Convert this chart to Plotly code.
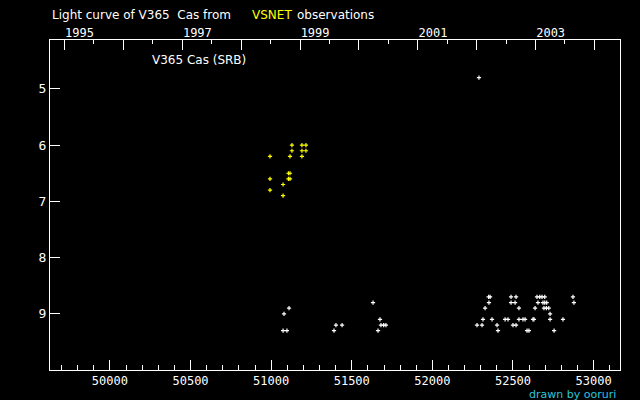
import datetime
import plotly.graph_objs as go

# VSNET observations of V365 Cas, JD-2400000 vs visual magnitude
yellow_jd = [51129, 51191, 51216, 51129, 51191, 51216, 50993, 51117, 51191,
             51107, 51117, 50993, 51107, 51117, 51074, 50993, 51074]
yellow_mag = [6.0, 6.0, 6.0, 6.1, 6.1, 6.1, 6.2, 6.2, 6.2,
              6.5, 6.5, 6.6, 6.6, 6.6, 6.7, 6.8, 6.9]

white_jd = [52289,
            51111, 51080, 51074, 51098,
            51632, 51675, 51681, 51698, 51712, 51663,
            51402, 51440, 51390,
            52349, 52358, 52488, 52519, 52649, 52666, 52680, 52697, 52872,
            52351, 52488, 52513, 52655, 52686, 52697, 52709, 52878,
            52327, 52537, 52637, 52692, 52707, 52722,
            52730,
            52314, 52370, 52451, 52469, 52537, 52562, 52575, 52624, 52630, 52730, 52810,
            52277, 52308, 52401, 52500, 52519,
            52407, 52587, 52599, 52755]
white_mag = [4.8,
             8.9, 9.0, 9.3, 9.3,
             8.8, 9.1, 9.2, 9.2, 9.2, 9.3,
             9.2, 9.2, 9.3,
             8.7, 8.7, 8.7, 8.7, 8.7, 8.7, 8.7, 8.7, 8.7,
             8.8, 8.8, 8.8, 8.8, 8.8, 8.8, 8.8, 8.8,
             8.9, 8.9, 8.9, 8.9, 8.9, 8.9,
             9.0,
             9.1, 9.1, 9.1, 9.1, 9.1, 9.1, 9.1, 9.1, 9.1, 9.1, 9.1,
             9.2, 9.2, 9.2, 9.2, 9.2,
             9.3, 9.3, 9.3, 9.3]

jd_ticks = [50000, 50500, 51000, 51500, 52000, 52500, 53000]
jd_labels = ['50000', '50500', '51000', '51500', '52000', '52500', '53000']
mag_ticks = [5, 6, 7, 8, 9]
years = [1995, 1996, 1997, 1998, 1999, 2000, 2001, 2002, 2003, 2004]
year_labels = ['1995', '', '1997', '', '1999', '', '2001', '', '2003', '']

x_range = [49628.5, 53163.7]
y_range = [10.0, 4.13]


def jd_of(d):
    """JD-2400000 at 0h UT of a date"""
    return (d - datetime.date(1858, 11, 17)).days + 0.5


year_jd = [jd_of(datetime.date(y, 1, 1)) for y in years]
half_year_jd = [jd_of(datetime.date(y, 7, 2)) for y in years]

mono = 'DejaVu Sans Mono'
sans = 'DejaVu Sans'

fig = go.Figure()
fig.add_trace(go.Scatter(x=white_jd, y=white_mag, mode='markers',
                         marker=dict(symbol='cross-thin', size=3, line=dict(color='white', width=1.2))))
fig.add_trace(go.Scatter(x=yellow_jd, y=yellow_mag, mode='markers',
                         marker=dict(symbol='cross-thin', size=3, line=dict(color='#ffff00', width=1.2))))
# dummy trace to bring up the top (year) axis
fig.add_trace(go.Scatter(x=[x_range[0]], y=[y_range[0]], xaxis='x2', mode='markers',
                         marker=dict(opacity=0), hoverinfo='skip'))

axis_common = dict(showgrid=False, zeroline=False, showline=True, linecolor='white', linewidth=1,
                   ticks='inside', ticklen=10, tickcolor='white', tickwidth=1, automargin=False)

fig.update_layout(
    width=640, height=400,
    margin=dict(l=50, r=20, t=40, b=30),
    paper_bgcolor='black', plot_bgcolor='black',
    showlegend=False,
    xaxis=dict(range=x_range, tickmode='array', tickvals=jd_ticks, ticktext=jd_labels,
               tickfont=dict(family=mono, size=12, color='white'), mirror=True,
               minor=dict(dtick=100, tick0=0, ticks='inside', ticklen=5, tickcolor='white'),
               **axis_common),
    xaxis2=dict(range=x_range, overlaying='x', side='top', tickmode='array',
                tickvals=year_jd, ticktext=year_labels, ticklabelshift=15, ticklabelstandoff=-3,
                tickfont=dict(family=mono, size=12, color='white'),
                minor=dict(tickmode='array', tickvals=half_year_jd, ticks='inside', ticklen=4, tickcolor='white'),
                **axis_common),
    yaxis=dict(range=y_range, tickmode='array', tickvals=mag_ticks, mirror=True,
               tickfont=dict(family=mono, size=13, color='white'), **axis_common),
)

def px_x(p):
    return (p - 50) / 570.0

def px_y(p):
    return (370 - p) / 330.0

labels = [
    ('Light curve of V365  Cas from', 50, 15, 'white', 'left', sans, 12),
    ('VSNET', 250, 15, '#ffff00', 'left', sans, 12),
    ('observations', 295, 15, 'white', 'left', sans, 12),
    ('V365 Cas (SRB)', 150, 60, 'white', 'left', sans, 12),
    ('drawn by ooruri', 618, 394, '#29c5dc', 'right', sans, 11),
]
for text, x, y, color, anchor, family, size in labels:
    fig.add_annotation(text=text, xref='paper', yref='paper', x=px_x(x), y=px_y(y),
                       xanchor=anchor, yanchor='middle', showarrow=False,
                       font=dict(family=family, size=size, color=color))

# page body has a default margin; drop it so the figure sits at the window corner
fig.write_html("out.html", config={'displayModeBar': False},
               post_script="document.body.style.margin='0';")
